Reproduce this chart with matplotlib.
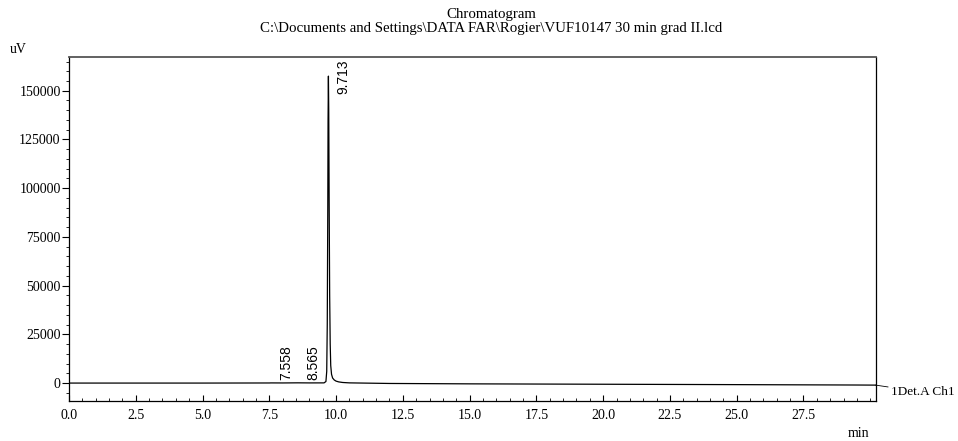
import matplotlib
matplotlib.use('Agg')
import matplotlib.pyplot as plt
from matplotlib.ticker import MultipleLocator, FixedLocator

# detector trace (min, uV)
time_min = [0.0, 2.0, 5.0, 7.5, 7.558, 8.0, 8.565, 9.0, 9.55, 9.62, 9.65, 9.67,
            9.69, 9.70, 9.713, 9.725, 9.74, 9.76, 9.78, 9.80, 9.83, 9.87, 9.93,
            10.0, 10.1, 10.25, 10.5, 12.0, 15.0, 20.0, 25.0, 29.5, 30.2]
signal_uv = [0, 0, 0, 50, 80, 60, 120, 80, 100, 800, 6000, 30000,
             90000, 135000, 157500, 140000, 95000, 45000, 20000, 9000, 4500, 2600, 1600,
             1000, 600, 300, 100, -200, -400, -600, -800, -1000, -1050]

peak_times = [7.558, 8.565, 9.713]
peak_heights = [80, 120, 157500]
peak_labels = ['7.558', '8.565', '9.713']

x_ticks = [0.0, 2.5, 5.0, 7.5, 10.0, 12.5, 15.0, 17.5, 20.0, 22.5, 25.0, 27.5]
y_ticks = [0, 25000, 50000, 75000, 100000, 125000, 150000]

serif = 'Liberation Serif'

fig = plt.figure(figsize=(9.58, 4.41), dpi=100)
ax = fig.add_axes([0.072, 0.0907, 0.842, 0.78])

ax.plot(time_min, signal_uv, color='black', lw=0.9)
ax.set_xlim(0, 30.2)
ax.set_ylim(-9200, 167300)

ax.xaxis.set_major_locator(FixedLocator(x_ticks))
ax.xaxis.set_minor_locator(MultipleLocator(0.5))
ax.yaxis.set_major_locator(FixedLocator(y_ticks))
ax.yaxis.set_minor_locator(MultipleLocator(5000))
ax.set_xticklabels(['%.1f' % t for t in x_ticks], fontfamily=serif, fontsize=10)
ax.set_yticklabels([str(v) for v in y_ticks], fontfamily=serif, fontsize=10)
ax.tick_params(axis='x', which='major', direction='in', length=4, pad=6)
ax.tick_params(axis='x', which='minor', direction='in', length=2)
ax.tick_params(axis='y', which='major', direction='out', length=5, pad=1)
ax.tick_params(axis='y', which='minor', direction='out', length=2)
for s in ax.spines.values():
    s.set_linewidth(0.9)
ax.spines['top'].set_color('#555555')
ax.spines['top'].set_linewidth(1.3)

# peak retention times, rotated like the instrument printout;
# a label that would run past the frame is hung from the top instead
for t, h, lab in zip(peak_times, peak_heights, peak_labels):
    if h > 140000:
        ax.annotate(lab, xy=(t, 1.0), xycoords=('data', 'axes fraction'),
                    xytext=(6, -2), textcoords='offset points',
                    rotation=90, ha='left', va='top',
                    fontfamily='Liberation Sans', fontsize=10)
    else:
        ax.annotate(lab, xy=(t, h), xytext=(6, 2), textcoords='offset points',
                    rotation=90, ha='left', va='bottom',
                    fontfamily='Liberation Sans', fontsize=10)

fig.text(0.513, 0.967, 'Chromatogram', ha='center', va='center',
         fontfamily=serif, fontsize=10.7)
fig.text(0.513, 0.935,
         'C:\\Documents and Settings\\DATA FAR\\Rogier\\VUF10147 30 min grad II.lcd',
         ha='center', va='center', fontfamily=serif, fontsize=10.7)
fig.text(0.010, 0.887, 'uV', ha='left', va='center', fontfamily=serif, fontsize=10)
fig.text(0.896, 0.016, 'min', ha='center', va='center', fontfamily=serif, fontsize=10)

# channel tag at the right end of the trace
ax.annotate('1Det.A Ch1', xy=(30.2, signal_uv[-1]), xytext=(11, -5),
            textcoords='offset points', ha='left', va='center',
            fontfamily=serif, fontsize=9.5, annotation_clip=False,
            arrowprops=dict(arrowstyle='-', color='black', lw=0.6,
                            shrinkA=0, shrinkB=0))

fig.savefig('out.png', dpi=100)
